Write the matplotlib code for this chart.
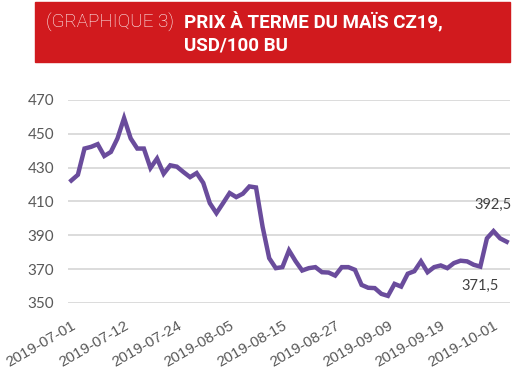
import matplotlib
matplotlib.use('Agg')
import matplotlib.pyplot as plt
from matplotlib.patches import Rectangle

# prix CZ19, USD/100 bu, un point par seance
prices = [422.4, 425.8, 441.3, 442.3, 443.9, 436.9, 439.3, 447.3, 459.3, 447.3,
          441.3, 441.3, 429.8, 435.4, 426.4, 431.4, 430.6, 427.4, 424.4, 426.8,
          421.0, 409.0, 403.1, 409.0, 415.0, 412.6, 414.6, 418.9, 418.3, 395.0,
          376.5, 370.6, 371.2, 381.1, 374.7, 369.2, 370.6, 371.2, 368.2, 368.0,
          366.2, 371.2, 371.2, 369.6, 360.7, 359.0, 358.8, 355.4, 354.2, 361.3,
          359.7, 367.3, 368.8, 374.6, 368.2, 371.2, 372.2, 370.6, 373.6, 375.0,
          374.6, 372.6, 371.5, 388.2, 392.5, 388.2, 386.2]

tick_labels = ['2019-07-01', '2019-07-12', '2019-07-24', '2019-08-05', '2019-08-15',
               '2019-08-27', '2019-09-09', '2019-09-19', '2019-10-01']
tick_step = 8

yticks = [350, 370, 390, 410, 430, 450, 470]

# points annotes
low_idx, low_txt = 62, '371,5'
high_idx, high_txt = 64, '392,5'

W, H = 515, 376
fig = plt.figure(figsize=(W / 100, H / 100), dpi=100)
ax = fig.add_axes([68 / W, 1 - 303 / H, 442 / W, 203 / H])

x = list(range(len(prices)))
ax.plot(x, prices, color='#6a4c9c', lw=3.2, solid_joinstyle='miter', zorder=3)

ax.set_xlim(-0.5, len(prices) - 0.5)
ax.set_ylim(350, 470)
ax.set_yticks(yticks)
ax.set_yticklabels([str(v) for v in yticks], fontsize=11, color='#595959', family='Lato')
ax.grid(axis='y', color='#d9d9d9', lw=1.3)
ax.set_axisbelow(True)
for s in ax.spines.values():
    s.set_visible(False)
ax.tick_params(axis='y', length=0, pad=10)
ax.tick_params(axis='x', length=0, pad=11)

pos = list(range(0, len(prices), tick_step))[:len(tick_labels)]
ax.set_xticks(pos)
ax.set_xticklabels(tick_labels, rotation=30, ha='right', va='top', rotation_mode='anchor',
                   fontsize=11, color='#595959', family='Liberation Sans')

ax.annotate(low_txt, (low_idx, prices[low_idx]), xytext=(0, -9), textcoords='offset points',
            ha='center', va='top', fontsize=10.5, color='#404040', family='Lato')
ax.annotate(high_txt, (high_idx, prices[high_idx]), xytext=(0, 14), textcoords='offset points',
            ha='center', va='bottom', fontsize=10.5, color='#404040', family='Lato')

# bandeau titre
fig.patches.append(Rectangle((35 / W, 1 - 62 / H), 475 / W, 60 / H, transform=fig.transFigure,
                             color='#d11a1e', zorder=0))
fig.text(46 / W, 1 - 22 / H, '(GRAPHIQUE 3)', color='white', fontsize=13.5,
         family='Roboto', fontweight='light', va='center', ha='left')
fig.text(184 / W, 1 - 22 / H, 'PRIX À TERME DU MAÏS CZ19,', color='white', fontsize=13.5,
         family='Roboto', fontweight='bold', va='center', ha='left')
fig.text(184 / W, 1 - 46 / H, 'USD/100 BU', color='white', fontsize=13.5,
         family='Roboto', fontweight='bold', va='center', ha='left')

fig.savefig('out.png', dpi=100)
